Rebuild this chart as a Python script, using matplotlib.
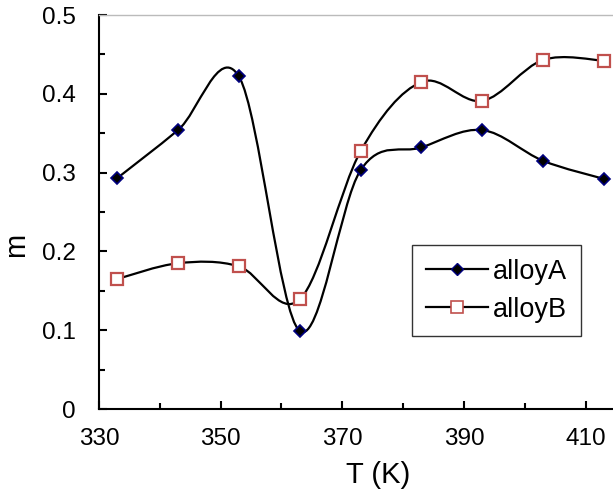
import matplotlib

matplotlib.use("Agg")

import matplotlib.pyplot as plt
import numpy as np
from matplotlib.path import Path
from matplotlib.patches import PathPatch

plt.rcParams["font.family"] = ["Liberation Sans", "DejaVu Sans"]

temperature = [333, 343, 353, 363, 373, 383, 393, 403, 413]
alloy_a = [0.293, 0.354, 0.422, 0.099, 0.303, 0.332, 0.354, 0.315, 0.292]
alloy_b = [0.165, 0.185, 0.181, 0.139, 0.327, 0.415, 0.391, 0.443, 0.442]
x_ticks = [330, 350, 370, 390, 410]
y_ticks = [0, 0.1, 0.2, 0.3, 0.4, 0.5]


def smooth_path(x, y):
    # Excel-like smoothed line: Bezier segments with Catmull-Rom control points
    pts = np.column_stack([x, y]).astype(float)
    n = len(pts)
    verts = [pts[0]]
    codes = [Path.MOVETO]
    for i in range(n - 1):
        p0 = pts[i - 1] if i > 0 else pts[i]
        p1 = pts[i]
        p2 = pts[i + 1]
        p3 = pts[i + 2] if i + 2 < n else pts[i + 1]
        c1 = p1 + (p2 - p0) / 6
        c2 = p2 - (p3 - p1) / 6
        verts += [c1, c2, p2]
        codes += [Path.CURVE4] * 3
    return Path(verts, codes)


fig = plt.figure(figsize=(6.13, 4.97), dpi=100)
ax = fig.add_axes([99 / 613, (497 - 409) / 497, (613 - 99) / 613, 394 / 497])

for ys in (alloy_a, alloy_b):
    ax.add_patch(PathPatch(smooth_path(temperature, ys), facecolor="none",
                           edgecolor="black", linewidth=1.6, zorder=2))

ax.plot(temperature, alloy_a, linestyle="none", marker="D", markersize=6.5,
        markerfacecolor="black", markeredgecolor="#000080", markeredgewidth=1.2,
        zorder=3)
ax.plot(temperature, alloy_b, linestyle="none", marker="s", markersize=9,
        markerfacecolor="white", markeredgecolor="#c0504d", markeredgewidth=1.6,
        zorder=3)

# legend handles
ax.plot([], [], color="black", linewidth=1.6, marker="D", markersize=6.5,
        markerfacecolor="black", markeredgecolor="#000080", label="alloyA")
ax.plot([], [], color="black", linewidth=1.6, marker="s", markersize=9,
        markerfacecolor="white", markeredgecolor="#c0504d", markeredgewidth=1.2,
        label="alloyB")

ax.set_xlim(330, 414.5)
ax.set_ylim(0, 0.5)
ax.set_xticks(x_ticks)
ax.set_xticks(np.arange(340, 415, 20), minor=True)
ax.set_yticks(y_ticks)
ax.set_yticklabels(["0", "0.1", "0.2", "0.3", "0.4", "0.5"])
ax.set_yticks(np.arange(0.05, 0.5, 0.1), minor=True)
ax.tick_params(which="both", direction="in", width=1.5, labelsize=17.5)
ax.tick_params(axis="x", which="major", length=6, pad=14)
ax.tick_params(axis="y", which="major", length=6, pad=17)
ax.tick_params(which="minor", length=4)

ax.spines["right"].set_visible(False)
ax.spines["top"].set_color("#bbbbbb")
ax.spines["top"].set_linewidth(1)
ax.spines["left"].set_linewidth(1.5)
ax.spines["bottom"].set_linewidth(1.5)

ax.set_xlabel("T (K)", fontsize=21)
ax.set_ylabel("m", fontsize=21)
ax.xaxis.set_label_coords((378 - 99) / 514, -(475 - 409) / 394)
ax.yaxis.set_label_coords(-(99 - 16) / 514, (409 - 245) / 394)
ax.xaxis.label.set_va("center")
ax.yaxis.label.set_va("center")

leg = ax.legend(loc="upper left", bbox_to_anchor=((412 - 99) / 514, (409 - 245) / 394),
                fontsize=19.5, frameon=True, fancybox=False, borderpad=0.5,
                handlelength=2.3, handletextpad=0.2, labelspacing=0.45,
                borderaxespad=0)
leg.get_frame().set_edgecolor("black")
leg.get_frame().set_linewidth(1)

fig.savefig("out.png", dpi=100)
